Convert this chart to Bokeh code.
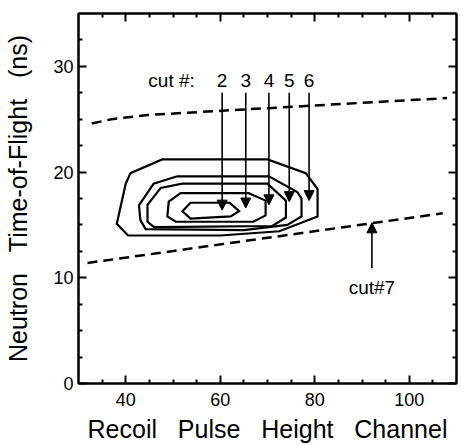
from bokeh.plotting import figure
from bokeh.models import (Range1d, FixedTicker, LinearAxis, Arrow, NormalHead,
                          ColumnDataSource, CustomLabelingPolicy)
from bokeh.core.properties import value
from bokeh.embed import file_html
from bokeh.resources import INLINE

# ---------------- data ----------------
x_major = [40, 60, 80, 100]
x_minor = [35, 45, 50, 55, 65, 70, 75, 85, 90, 95, 105]
y_major = [0, 10, 20, 30]
y_minor = [2.5, 5, 7.5, 12.5, 15, 17.5, 22.5, 25, 27.5, 32.5]

# contour levels (outer -> inner)
c1_x = [47.7, 70.0, 78.1, 80.6, 80.6, 72.5, 60.0, 40.5, 38.1, 40.0, 41.0]
c1_y = [21.2, 21.2, 19.9, 18.4, 15.8, 14.4, 14.0, 14.0, 15.1, 18.9, 19.9]
c2_x = [50.9, 70.3, 76.3, 77.2, 77.2, 74.2, 65.0, 44.2, 43.1, 42.8, 45.9]
c2_y = [19.6, 19.6, 18.1, 17.5, 15.8, 15.0, 14.5, 14.6, 15.45, 16.85, 18.9]
c3_x = [52.0, 70.0, 73.9, 73.9, 71.0, 46.0, 44.6, 44.6, 47.4]
c3_y = [18.9, 18.9, 17.3, 15.7, 14.9, 14.8, 15.3, 16.9, 18.5]
c4_x = [51.6, 66.0, 69.6, 69.6, 67.0, 50.6, 48.8, 49.1]
c4_y = [18.0, 18.0, 17.3, 15.9, 15.3, 15.3, 15.8, 17.2]
c5_x = [53.7, 62.0, 64.0, 62.2, 53.7, 52.0]
c5_y = [17.1, 17.1, 16.3, 15.8, 15.6, 16.3]

# dashed cut boundaries
upper_x = [32.8, 37.0, 44.6, 80.0, 108.0]
upper_y = [24.6, 25.0, 25.4, 26.3, 27.0]
lower_x = [31.9, 107.1]
lower_y = [11.4, 16.1]

# cut arrows
cut_labels = ["2", "3", "4", "5", "6"]
cut_x = [60.4, 65.4, 70.3, 74.6, 78.8]
cut_tail_y = [27.5, 27.5, 27.5, 27.5, 27.5]
cut_tip_y = [16.4, 16.6, 16.9, 17.2, 17.3]
cut_label_y = [28.7, 28.7, 28.7, 28.7, 28.7]
cut_title = ["cut #:"]
cut_title_x = [49.7]
cut_title_y = [28.7]

cut7_label = ["cut#7"]
cut7_x = [92.1]
cut7_tail_y = [10.9]
cut7_tip_y = [15.2]
cut7_label_y = [9.1]

FONT = "Liberation Sans"

p = figure(width=462, height=445, x_range=Range1d(30, 110), y_range=Range1d(0, 35),
           output_backend="svg", toolbar_location=None,
           min_border_left=78, min_border_right=6, min_border_top=13, min_border_bottom=62)
p.xgrid.visible = False
p.ygrid.visible = False
p.outline_line_color = "black"
p.outline_line_width = 2
p.background_fill_color = "white"
p.border_fill_color = "white"

xt = FixedTicker(ticks=x_major, minor_ticks=x_minor)
yt = FixedTicker(ticks=y_major, minor_ticks=y_minor)

def style(ax, labels=True):
    ax.axis_line_color = "black"
    ax.axis_line_width = 2
    ax.major_tick_line_color = "black"
    ax.major_tick_line_width = 2
    ax.minor_tick_line_color = "black"
    ax.minor_tick_line_width = 2
    ax.major_tick_in = 8
    ax.major_tick_out = 0
    ax.minor_tick_in = 4
    ax.minor_tick_out = 0
    if labels:
        ax.major_label_text_font = FONT
        ax.major_label_text_font_size = "18px"
        ax.major_label_text_color = "black"
        ax.axis_label_text_font = FONT
        ax.axis_label_text_font_size = "25px"
        ax.axis_label_text_font_style = "normal"
        ax.axis_label_text_color = "black"
    else:
        ax.major_label_text_font_size = "0px"
        ax.major_label_standoff = 0
        ax.major_label_policy = CustomLabelingPolicy(
            code="for (const i of indices) { indices.unset(i) }\nreturn indices")

p.xaxis.ticker = xt
p.yaxis.ticker = yt
style(p.xaxis[0])
style(p.yaxis[0])
S = "\u00a0\u00a0\u00a0"
p.xaxis.axis_label = "Recoil" + S + "Pulse" + S + "Height" + S + "Channel"
p.yaxis.axis_label = "Neutron" + S + "Time-of-Flight" + S + "(ns)"
p.xaxis.major_label_standoff = 9
p.xaxis.axis_label_standoff = 6
p.yaxis.major_label_standoff = 5
p.yaxis.axis_label_standoff = 18

top = LinearAxis(ticker=xt)
style(top, labels=False)
p.add_layout(top, "above")
right = LinearAxis(ticker=yt)
style(right, labels=False)
p.add_layout(right, "right")

# contours
p.patches([c1_x, c2_x, c3_x, c4_x, c5_x], [c1_y, c2_y, c3_y, c4_y, c5_y],
          fill_color=None, line_color="black", line_width=2.2, line_join="miter")

# dashed lines
p.line(upper_x, upper_y, line_color="black", line_width=2.5, line_dash="10 6")
p.line(lower_x, lower_y, line_color="black", line_width=2.5, line_dash="10 6")

# cut arrows
src = ColumnDataSource(dict(x=cut_x, y0=cut_tail_y, y1=cut_tip_y, ly=cut_label_y, t=cut_labels))
p.add_layout(Arrow(end=NormalHead(size=10, fill_color="black", line_color="black", line_width=1),
                   x_start="x", y_start="y0", x_end="x", y_end="y1", source=src,
                   line_color="black", line_width=1.6))
p.text(x="x", y="ly", text="t", source=src, text_font=value(FONT), text_font_size="19px",
       text_align="center", text_baseline="middle", text_color="black")
p.text(x=cut_title_x, y=cut_title_y, text=cut_title, text_font=value(FONT), text_font_size="19px",
       text_align="center", text_baseline="middle", text_color="black")

src7 = ColumnDataSource(dict(x=cut7_x, y0=cut7_tail_y, y1=cut7_tip_y, ly=cut7_label_y, t=cut7_label))
p.add_layout(Arrow(end=NormalHead(size=10, fill_color="black", line_color="black", line_width=1),
                   x_start="x", y_start="y0", x_end="x", y_end="y1", source=src7,
                   line_color="black", line_width=1.6))
p.text(x="x", y="ly", text="t", source=src7, text_font=value(FONT), text_font_size="19px",
       text_align="center", text_baseline="middle", text_color="black")

open("out.html", "w").write(file_html(p, INLINE))
